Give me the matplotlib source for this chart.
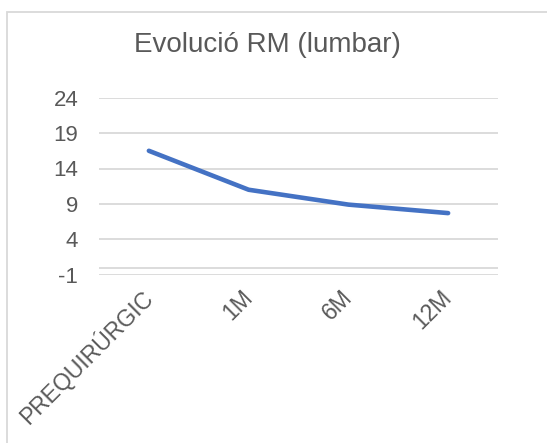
import matplotlib
matplotlib.use("Agg")
import matplotlib.pyplot as plt
from matplotlib.patches import Rectangle
from matplotlib.transforms import ScaledTranslation

categories = ["PREQUIRÚRGIC", "1M", "6M", "12M"]
values = [16.5, 11.0, 8.9, 7.7]
yticks = [-1, 4, 9, 14, 19, 24]
title = "Evolució RM (lumbar)"

plt.rcParams['font.family'] = ['Liberation Sans', 'DejaVu Sans']
text_color = '#595959'
grid_color = '#d9d9d9'

fig = plt.figure(figsize=(5.47, 4.43), dpi=100)
ax = fig.add_axes([99/547, 1-274.7/443, (498-99)/547, (274.7-97.7)/443])

x = list(range(len(categories)))
ax.plot(x, values, color='#4472C4', lw=3.3, solid_capstyle='round', zorder=3)

ax.set_xlim(-0.5, len(categories)-0.5)
ax.set_ylim(yticks[0], yticks[-1])
ax.set_yticks(yticks)
ax.set_yticklabels([str(t) for t in yticks], fontsize=16, color=text_color)
ax.set_xticks(x)
ax.set_xticklabels(categories, fontsize=16.5, color=text_color, rotation=45,
                   ha='right', va='center', rotation_mode='anchor')
offset = ScaledTranslation(4/100, 0, fig.dpi_scale_trans)
for lab in ax.get_xticklabels():
    lab.set_transform(lab.get_transform() + offset)
ax.tick_params(axis='both', length=0)
ax.tick_params(axis='y', pad=15)
ax.tick_params(axis='x', pad=14)
ax.grid(axis='y', color=grid_color, lw=1.3)
ax.axhline(0, color=grid_color, lw=1.3, zorder=2)
for s in ax.spines.values():
    s.set_visible(False)
ax.set_axisbelow(True)

fig.text(267/547, 1-45/443, title, ha='center', va='center', fontsize=20, color=text_color)

fig.patches.append(Rectangle((7/547, -0.05), 1.1, 1-12/443+0.05, transform=fig.transFigure,
                             fill=False, edgecolor=grid_color, lw=1.3, clip_on=False))

fig.savefig("out.png", dpi=100, facecolor='white')
